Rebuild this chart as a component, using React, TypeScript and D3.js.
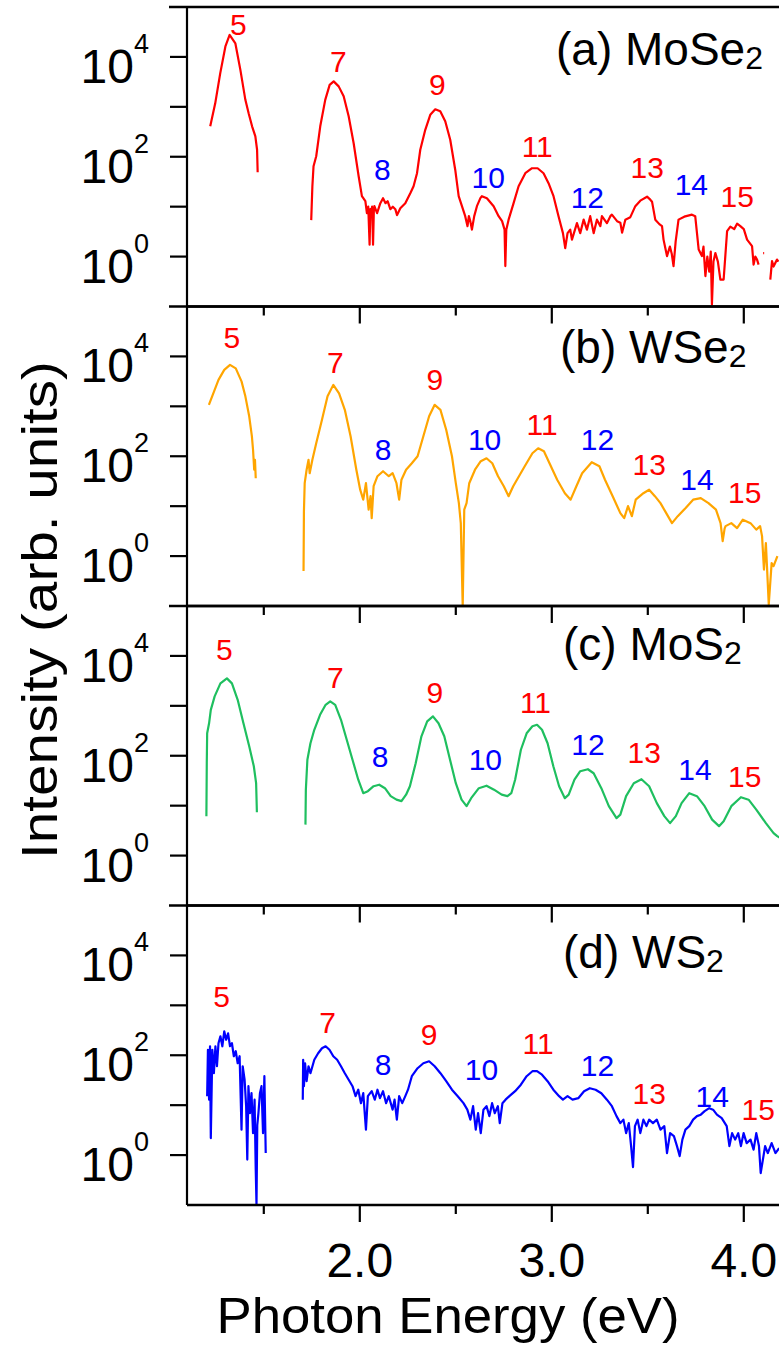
import React from "react";
import * as d3 from "d3";

// ---------- DATA (photon energy in eV, log10 of intensity in arb. units) ----------
const xTicks = [1.5, 2.0, 2.5, 3.0, 3.5, 4.0];
const yTickExponents = [0, 1, 2, 3, 4];
const yLabelExponents = [0, 2, 4];
const harmonicOrders = [5, 7, 8, 9, 10, 11, 12, 13, 14, 15];

const panelNames = ["(a) MoSe", "(b) WSe", "(c) MoS", "(d) WS"];
const seriesColors = ["#ff0000", "#ffa500", "#1fbf5f", "#0000ff"];

// MoSe2
const mose2H5: [number, number][] = [
  [1.221, 2.61], [1.247, 3.07], [1.273, 3.67], [1.3, 4.21], [1.322, 4.44], [1.352, 4.27], [1.378, 3.74],
  [1.404, 3.14], [1.421, 2.87], [1.439, 2.61], [1.456, 2.41], [1.465, 2.14], [1.468, 1.69],
];
const mose2Main: [number, number][] = [
  [1.747, 0.73], [1.753, 1.41], [1.759, 1.81], [1.773, 2.01], [1.794, 2.61], [1.82, 3.14], [1.843, 3.44],
  [1.864, 3.51], [1.89, 3.41], [1.916, 3.21], [1.942, 2.81], [1.968, 2.27], [1.994, 1.61], [2.011, 1.21],
  [2.029, 1.11], [2.037, 0.87], [2.044, 1.0], [2.051, 0.24], [2.055, 0.95], [2.058, 0.87], [2.064, 1.0],
  [2.069, 0.24], [2.073, 0.9], [2.076, 1.01], [2.09, 0.87], [2.107, 1.07], [2.121, 1.17], [2.134, 1.07],
  [2.145, 1.11], [2.159, 0.95], [2.172, 1.0], [2.185, 0.95], [2.194, 0.83], [2.211, 0.97], [2.237, 1.07],
  [2.263, 1.27], [2.28, 1.41], [2.298, 1.67], [2.315, 2.14], [2.341, 2.54], [2.367, 2.84], [2.393, 2.95],
  [2.419, 2.91], [2.445, 2.71], [2.471, 2.34], [2.497, 1.74], [2.515, 1.21], [2.532, 1.01], [2.549, 0.81],
  [2.561, 0.61], [2.568, 0.81], [2.576, 0.7], [2.584, 0.54], [2.596, 0.81], [2.61, 1.01], [2.628, 1.17],
  [2.636, 1.21], [2.662, 1.17], [2.697, 1.01], [2.723, 0.81], [2.741, 0.71], [2.754, 0.54], [2.758, -0.19],
  [2.763, 0.54], [2.775, 0.74], [2.801, 1.07], [2.827, 1.41], [2.862, 1.67], [2.897, 1.77], [2.926, 1.77],
  [2.957, 1.67], [2.983, 1.47], [3.009, 1.21], [3.035, 0.81], [3.058, 0.47], [3.07, 0.17], [3.082, 0.47],
  [3.096, 0.54], [3.105, 0.34], [3.131, 0.67], [3.148, 0.47], [3.166, 0.74], [3.183, 0.54], [3.2, 0.81],
  [3.218, 0.47], [3.235, 0.74], [3.253, 0.61], [3.261, 0.81], [3.287, 0.67], [3.305, 0.81], [3.313, 0.84],
  [3.34, 0.71], [3.357, 0.68], [3.366, 0.48], [3.383, 0.74], [3.409, 0.79], [3.435, 1.01], [3.461, 1.12],
  [3.496, 1.2], [3.513, 1.14], [3.522, 1.1], [3.539, 0.74], [3.56, 0.65], [3.574, 0.61], [3.582, 0.34],
  [3.6, 0.01], [3.615, 0.2], [3.625, 0.05], [3.634, -0.19], [3.645, 0.3], [3.66, 0.74], [3.69, 0.8],
  [3.73, 0.84], [3.747, 0.81], [3.765, 0.14], [3.782, 0.01], [3.79, 0.2], [3.8, -0.39], [3.81, 0.0],
  [3.82, -0.3], [3.828, 0.1], [3.834, -0.96], [3.842, -0.1], [3.852, 0.07], [3.865, -0.1], [3.878, -0.46],
  [3.895, -0.46], [3.913, 0.51], [3.93, 0.6], [3.95, 0.55], [3.965, 0.66], [3.982, 0.61], [4.0, 0.55],
  [4.017, 0.34], [4.043, 0.21], [4.051, -0.16], [4.06, 0.0], [4.069, -0.06], [4.077, -0.16],
];
const mose2Dot: [number, number][] = [[4.101, 0.07], [4.106, 0.07]];
const mose2Tail: [number, number][] = [[4.138, -0.46], [4.147, -0.09], [4.155, -0.2], [4.173, -0.06], [4.18, -0.1]];

// WSe2
const wse2H5: [number, number][] = [
  [1.214, 3.03], [1.224, 3.13], [1.244, 3.33], [1.264, 3.53], [1.294, 3.73], [1.324, 3.83], [1.354, 3.76],
  [1.384, 3.5], [1.404, 3.2], [1.424, 2.8], [1.438, 2.4], [1.444, 2.13], [1.45, 1.73], [1.454, 1.93], [1.458, 1.56],
];
const wse2Main: [number, number][] = [
  [1.707, -0.3], [1.709, 0.9], [1.713, 1.46], [1.723, 1.73], [1.733, 1.93], [1.739, 1.66], [1.753, 1.93],
  [1.773, 2.26], [1.803, 2.73], [1.832, 3.2], [1.862, 3.43], [1.892, 3.26], [1.922, 2.93], [1.952, 2.4],
  [1.982, 1.73], [2.002, 1.33], [2.018, 1.13], [2.032, 1.46], [2.046, 0.93], [2.056, 1.2], [2.062, 0.76],
  [2.072, 1.4], [2.092, 1.6], [2.121, 1.7], [2.151, 1.6], [2.171, 1.66], [2.191, 1.46], [2.205, 1.13],
  [2.217, 1.53], [2.241, 1.73], [2.271, 1.86], [2.301, 2.0], [2.331, 2.4], [2.361, 2.8], [2.39, 3.03],
  [2.42, 2.93], [2.45, 2.53], [2.48, 2.0], [2.5, 1.46], [2.516, 1.06], [2.526, 0.66], [2.536, -1.0],
  [2.544, 0.93], [2.556, 1.06], [2.57, 1.46], [2.6, 1.73], [2.63, 1.9], [2.66, 1.96], [2.69, 1.86],
  [2.72, 1.6], [2.75, 1.4], [2.775, 1.2], [2.799, 1.4], [2.829, 1.6], [2.859, 1.8], [2.899, 2.06],
  [2.929, 2.16], [2.959, 2.1], [2.988, 1.86], [3.028, 1.53], [3.068, 1.26], [3.098, 1.13], [3.128, 1.4],
  [3.158, 1.66], [3.208, 1.88], [3.248, 1.8], [3.277, 1.53], [3.317, 1.2], [3.357, 0.86], [3.377, 0.76],
  [3.397, 1.0], [3.417, 0.8], [3.437, 1.13], [3.477, 1.26], [3.507, 1.33], [3.537, 1.2], [3.566, 1.06],
  [3.596, 0.86], [3.626, 0.66], [3.656, 0.8], [3.696, 0.96], [3.736, 1.13], [3.776, 1.16], [3.816, 1.06],
  [3.855, 0.93], [3.879, 0.66], [3.89, 0.3], [3.9, 0.55], [3.905, 0.6], [3.935, 0.66], [3.965, 0.56],
  [3.995, 0.73], [4.035, 0.66], [4.065, 0.53], [4.085, 0.6], [4.095, 0.4], [4.105, -0.27], [4.115, 0.26],
  [4.13, -0.97], [4.145, -0.14], [4.155, -0.2], [4.175, 0.0],
];

// MoS2
const mos2H5: [number, number][] = [
  [1.201, 0.79], [1.203, 1.85], [1.205, 2.45], [1.215, 2.65], [1.224, 2.92], [1.244, 3.19], [1.274, 3.45],
  [1.308, 3.55], [1.334, 3.45], [1.364, 3.12], [1.394, 2.65], [1.424, 2.19], [1.448, 1.79], [1.46, 1.45], [1.464, 0.87],
];
const mos2Main: [number, number][] = [
  [1.717, 0.62], [1.719, 1.32], [1.727, 1.92], [1.743, 2.25], [1.763, 2.52], [1.793, 2.82], [1.822, 3.02],
  [1.846, 3.09], [1.872, 3.02], [1.902, 2.72], [1.932, 2.32], [1.962, 1.92], [1.992, 1.52], [2.018, 1.25],
  [2.042, 1.29], [2.072, 1.39], [2.101, 1.42], [2.131, 1.35], [2.161, 1.19], [2.191, 1.12], [2.217, 1.09],
  [2.241, 1.22], [2.261, 1.39], [2.291, 1.85], [2.321, 2.39], [2.351, 2.69], [2.381, 2.79], [2.41, 2.65],
  [2.44, 2.39], [2.47, 1.92], [2.5, 1.45], [2.53, 1.12], [2.556, 0.99], [2.58, 1.15], [2.62, 1.35],
  [2.66, 1.4], [2.699, 1.32], [2.739, 1.22], [2.769, 1.19], [2.789, 1.25], [2.809, 1.52], [2.839, 2.12],
  [2.869, 2.45], [2.899, 2.59], [2.923, 2.62], [2.949, 2.52], [2.978, 2.25], [3.008, 1.79], [3.038, 1.39],
  [3.068, 1.15], [3.088, 1.22], [3.118, 1.52], [3.148, 1.69], [3.188, 1.73], [3.218, 1.65], [3.258, 1.35],
  [3.297, 0.99], [3.337, 0.75], [3.357, 0.82], [3.387, 1.19], [3.427, 1.45], [3.467, 1.53], [3.507, 1.39],
  [3.547, 1.05], [3.586, 0.79], [3.616, 0.65], [3.646, 0.79], [3.676, 1.05], [3.716, 1.25], [3.756, 1.19],
  [3.796, 0.99], [3.835, 0.72], [3.871, 0.59], [3.895, 0.69], [3.935, 0.99], [3.985, 1.17], [4.025, 1.12],
  [4.065, 0.92], [4.115, 0.65], [4.155, 0.45], [4.174, 0.39], [4.19, 0.35],
];

// WS2
const ws2H5: [number, number][] = [
  [1.205, 1.18], [1.209, 2.11], [1.215, 1.11], [1.22, 2.18], [1.224, 0.34], [1.232, 2.11], [1.24, 1.64],
  [1.248, 2.18], [1.256, 1.78], [1.264, 2.24], [1.274, 2.38], [1.284, 2.18], [1.294, 2.48], [1.304, 2.31],
  [1.314, 2.44], [1.324, 2.18], [1.334, 2.24], [1.344, 1.98], [1.354, 2.08], [1.364, 1.84], [1.374, 1.98],
  [1.384, 0.51], [1.39, 1.78], [1.4, 1.51], [1.408, 0.98], [1.414, -0.09], [1.42, 1.38], [1.428, 0.84],
  [1.436, 1.24], [1.444, 0.44], [1.452, 1.11], [1.458, -0.29], [1.462, -1.0], [1.466, 0.6], [1.472, 0.84],
  [1.48, 1.24], [1.488, 1.38], [1.496, 0.44], [1.503, 1.58], [1.51, 0.04],
];
const ws2Main: [number, number][] = [
  [1.703, 1.11], [1.705, 1.91], [1.709, 1.38], [1.715, 1.84], [1.723, 1.48], [1.733, 1.78], [1.743, 1.64],
  [1.763, 1.91], [1.783, 2.04], [1.803, 2.14], [1.822, 2.18], [1.842, 2.11], [1.862, 1.98], [1.882, 1.91],
  [1.902, 1.78], [1.922, 1.64], [1.942, 1.51], [1.962, 1.38], [1.978, 1.18], [1.992, 1.31], [2.006, 1.04],
  [2.018, 1.24], [2.032, 0.51], [2.042, 1.18], [2.062, 1.28], [2.078, 1.11], [2.092, 1.31], [2.105, 1.14],
  [2.121, 1.28], [2.137, 1.04], [2.151, 1.18], [2.171, 0.91], [2.181, 1.11], [2.193, 0.71], [2.205, 1.18],
  [2.221, 1.04], [2.237, 1.18], [2.251, 1.31], [2.271, 1.58], [2.301, 1.74], [2.331, 1.84], [2.361, 1.88],
  [2.39, 1.78], [2.42, 1.64], [2.45, 1.48], [2.48, 1.31], [2.51, 1.18], [2.54, 1.04], [2.56, 0.91],
  [2.576, 0.71], [2.59, 0.98], [2.604, 0.51], [2.616, 0.84], [2.63, 0.44], [2.644, 0.91], [2.66, 0.98],
  [2.675, 0.78], [2.689, 1.04], [2.703, 0.84], [2.719, 0.98], [2.729, 0.64], [2.743, 1.04], [2.759, 1.11],
  [2.779, 1.18], [2.809, 1.28], [2.839, 1.41], [2.869, 1.58], [2.899, 1.68], [2.923, 1.68], [2.949, 1.61],
  [2.978, 1.48], [3.008, 1.31], [3.038, 1.18], [3.058, 1.11], [3.082, 1.18], [3.108, 1.11], [3.138, 1.14],
  [3.168, 1.28], [3.198, 1.34], [3.228, 1.31], [3.258, 1.24], [3.287, 1.11], [3.313, 0.98], [3.337, 0.78],
  [3.357, 0.64], [3.373, 0.71], [3.387, 0.44], [3.401, 0.64], [3.413, 0.18], [3.423, -0.24], [3.433, 0.58],
  [3.447, 0.71], [3.461, 0.44], [3.477, 0.71], [3.493, 0.58], [3.507, 0.71], [3.527, 0.64], [3.547, 0.71],
  [3.566, 0.51], [3.586, 0.58], [3.6, 0.04], [3.616, 0.44], [3.636, 0.38], [3.652, 0.18], [3.666, -0.02],
  [3.68, 0.31], [3.696, 0.51], [3.716, 0.58], [3.736, 0.71], [3.756, 0.78], [3.776, 0.81], [3.796, 0.88],
  [3.82, 0.94], [3.84, 0.91], [3.86, 0.81], [3.885, 0.74], [3.911, 0.58], [3.925, 0.18], [3.939, 0.44],
  [3.955, 0.31], [3.971, 0.44], [3.985, 0.18], [3.999, 0.44], [4.015, 0.24], [4.035, 0.31], [4.051, 0.11],
  [4.065, 0.44], [4.079, 0.18], [4.088, -0.36], [4.111, 0.18], [4.125, 0.04], [4.145, 0.24], [4.165, 0.04],
  [4.184, 0.14],
];

// Harmonic label anchors (energy, log10 intensity), same order as harmonicOrders
const labelEnergyA = [1.367, 1.888, 2.117, 2.404, 2.669, 2.924, 3.185, 3.497, 3.727, 3.966];
const labelLogA = [4.44, 3.7, 1.54, 3.24, 1.38, 2.0, 0.98, 1.58, 1.24, 1.0];
const labelEnergyB = [1.334, 1.872, 2.121, 2.391, 2.65, 2.949, 3.238, 3.507, 3.756, 4.005];
const labelLogB = [4.17, 3.67, 1.93, 3.33, 2.13, 2.43, 2.13, 1.63, 1.33, 1.07];
const labelEnergyC = [1.294, 1.872, 2.106, 2.391, 2.654, 2.915, 3.188, 3.481, 3.746, 4.005];
const labelLogC = [3.92, 3.36, 1.78, 3.06, 1.72, 2.86, 2.02, 1.86, 1.52, 1.38];
const labelEnergyD = [1.28, 1.832, 2.121, 2.361, 2.634, 2.929, 3.238, 3.507, 3.836, 4.075];
const labelLogD = [2.97, 2.45, 1.61, 2.21, 1.51, 2.03, 1.59, 1.03, 0.97, 0.71];

const panelSegments = [
  [mose2H5, mose2Main, mose2Dot, mose2Tail],
  [wse2H5, wse2Main],
  [mos2H5, mos2Main],
  [ws2H5, ws2Main],
];
const panelLabelEnergies = [labelEnergyA, labelEnergyB, labelEnergyC, labelEnergyD];
const panelLabelLogs = [labelLogA, labelLogB, labelLogC, labelLogD];

// ---------- LAYOUT ----------
const W = 779;
const H = 1348;
const axisX = 187;
const pxPerEV = 192;
const panelTop0 = 7;
const panelH = 299.5;
const FONT = "'Liberation Sans', Arial, Helvetica, sans-serif";
const nameX = [556, 560, 563, 563];
const nameBaseOffset = [58, 56.5, 54, 62.5];

export default function App() {
  const x = d3.scaleLinear().domain([1.1, 4.3]).range([axisX, axisX + 3.2 * pxPerEV]);
  const right = x(4.3);

  return (
    <svg
      width={W}
      height={H}
      style={{ position: "absolute", left: 0, top: 0, background: "#fff" }}
      fontFamily={FONT}
    >
      <defs>
        {panelSegments.map((_, i) => {
          const top = panelTop0 + i * panelH;
          return (
            <clipPath id={`clip${i}`} key={i}>
              <rect x={axisX} y={top} width={right - axisX} height={panelH} />
            </clipPath>
          );
        })}
      </defs>
      {panelSegments.map((segs, i) => {
        const top = panelTop0 + i * panelH;
        const bottom = top + panelH;
        const y = d3.scaleLinear().domain([-1, 5]).range([bottom, top]);
        const line = d3
          .line<[number, number]>()
          .x((d) => x(d[0]))
          .y((d) => y(d[1]));
        return (
          <g key={i}>
            <g clipPath={`url(#clip${i})`}>
              {segs.map((s, k) => (
                <path
                  key={k}
                  d={line(s) || ""}
                  fill="none"
                  stroke={seriesColors[i]}
                  strokeWidth={2.2}
                  strokeLinejoin="round"
                />
              ))}
            </g>
            {harmonicOrders.map((n, k) => (
              <text
                key={n}
                x={x(panelLabelEnergies[i][k])}
                y={y(panelLabelLogs[i][k])}
                textAnchor="middle"
                fontSize={30}
                fill={n % 2 === 1 ? "#ff0000" : "#0000ff"}
              >
                {n}
              </text>
            ))}
            <text x={nameX[i]} y={top + nameBaseOffset[i]} fontSize={46} fill="#000">
              {panelNames[i]}
              <tspan fontSize={32} dy={4}>
                2
              </tspan>
            </text>
            <line x1={axisX - 18} x2={right} y1={top} y2={top} stroke="#000" strokeWidth={2.5} />
            <line x1={axisX} x2={right} y1={bottom} y2={bottom} stroke="#000" strokeWidth={2.5} />
            {xTicks.map((t) => (
              <line
                key={t}
                x1={x(t)}
                x2={x(t)}
                y1={bottom}
                y2={bottom + (Number.isInteger(t) ? 17 : 9)}
                stroke="#000"
                strokeWidth={2.2}
              />
            ))}
            <line x1={axisX} x2={axisX} y1={top} y2={bottom} stroke="#000" strokeWidth={2.2} />
            {yTickExponents.map((e) => (
              <line key={e} x1={axisX - 17} x2={axisX} y1={y(e)} y2={y(e)} stroke="#000" strokeWidth={2.2} />
            ))}
            {yLabelExponents.map((e) => (
              <text key={e} x={149} y={y(e) + 26} textAnchor="end" fontSize={48} fill="#000">
                10
                <tspan fontSize={27} dy={-30}>
                  {e}
                </tspan>
              </text>
            ))}
          </g>
        );
      })}
      {xTicks
        .filter((t) => Number.isInteger(t))
        .map((t) => (
          <text key={t} x={x(t)} y={1277} textAnchor="middle" fontSize={48} fill="#000">
            {t.toFixed(1)}
          </text>
        ))}
      <text
        x={448}
        y={1333}
        textAnchor="middle"
        fontSize={50}
        textLength={463}
        lengthAdjust="spacingAndGlyphs"
        fill="#000"
      >
        Photon Energy (eV)
      </text>
      <text
        transform={`translate(57,610) rotate(-90)`}
        textAnchor="middle"
        fontSize={50}
        textLength={498}
        lengthAdjust="spacingAndGlyphs"
        fill="#000"
      >
        Intensity (arb. units)
      </text>
    </svg>
  );
}
